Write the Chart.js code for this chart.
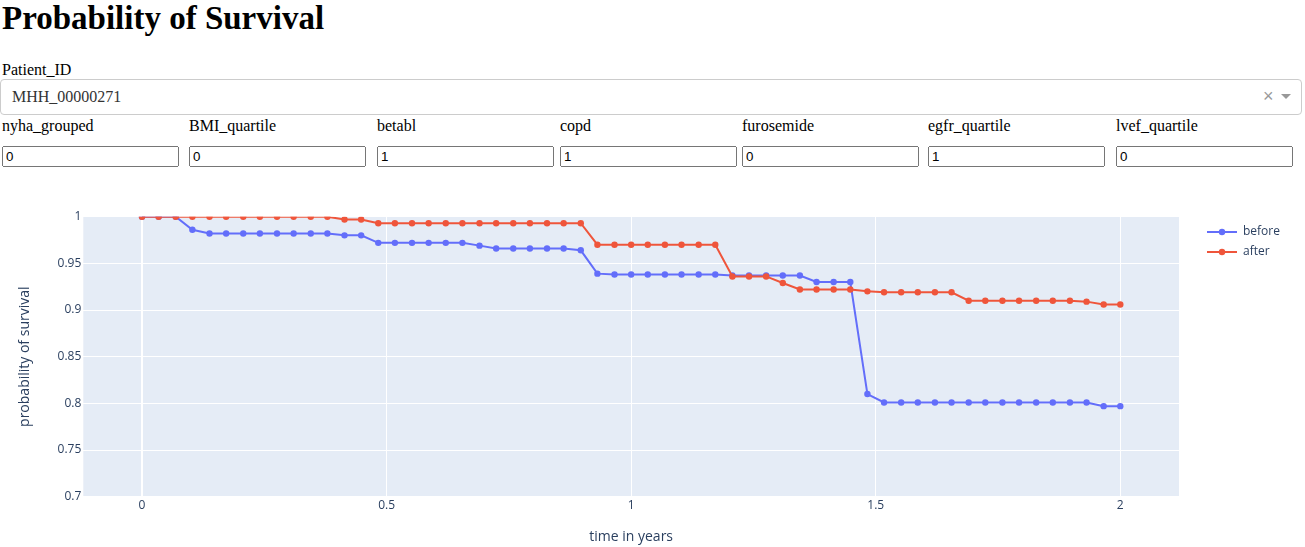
<!DOCTYPE html>
<html>
<head>
<meta charset="utf-8">
<title>Probability of Survival</title>
<script src="https://cdn.jsdelivr.net/npm/chart.js@4.4.1/dist/chart.umd.min.js"></script>
<style>
  html, body { margin: 0; padding: 0; background: #fff; }
  body {
    width: 1305px; height: 547px; position: relative; overflow: hidden;
    font-family: "Liberation Serif", "Times New Roman", serif; font-size: 16px; color: #000;
  }
  h1 { position: absolute; left: 2px; top: 0; margin: 0; font-size: 33px; line-height: 37px; font-weight: bold; }
  .lbl { position: absolute; line-height: 18px; white-space: nowrap; }
  .dd {
    position: absolute; left: 0; top: 79px; width: 1302px; height: 36px; box-sizing: border-box;
    border: 1px solid #ccc; border-radius: 4px; background: #fff;
  }
  .dd .val { position: absolute; left: 11px; top: 0; line-height: 34px; color: #333; }
  .dd .clr {
    position: absolute; left: 1262px; top: 0; line-height: 33px; color: #999;
    font-family: "Liberation Sans", Arial, sans-serif; font-size: 18px;
  }
  .dd .arr {
    position: absolute; left: 1280px; top: 14px; width: 0; height: 0;
    border-style: solid; border-width: 5px 5px 2.5px; border-color: #999 transparent transparent;
  }
  .fld { position: absolute; top: 117px; }
  .fld input {
    display: block; margin: 11px 0 0 0; width: 177px; box-sizing: border-box;
    font-family: "Liberation Sans", Arial, sans-serif; font-size: 13.333px;
  }
  #wrap { position: absolute; left: 0; top: 180px; width: 1305px; height: 367px; }
</style>
</head>
<body>
<h1>Probability of Survival</h1>
<div class="lbl" style="left:2px; top:61px;">Patient_ID</div>
<div class="dd">
  <span class="val">MHH_00000271</span>
  <span class="clr">×</span>
  <span class="arr"></span>
</div>
<div id="fields"></div>
<div id="wrap"><canvas id="survival-chart"></canvas></div>

<script>
// covariates shown above the chart
const fieldNames  = ['nyha_grouped', 'BMI_quartile', 'betabl', 'copd', 'furosemide', 'egfr_quartile', 'lvef_quartile'];
const fieldValues = ['0', '0', '1', '1', '0', '1', '0'];
const fieldLeft   = [2, 189, 377, 560, 742, 928, 1116];

// survival curve, sampled every ~1/29 year
const timeYears = [
  0, 0.034, 0.069, 0.103, 0.138, 0.172, 0.207, 0.241, 0.276, 0.31,
  0.345, 0.379, 0.414, 0.448, 0.483, 0.517, 0.552, 0.586, 0.621, 0.655,
  0.69, 0.724, 0.759, 0.793, 0.828, 0.862, 0.897, 0.931, 0.966, 1,
  1.034, 1.069, 1.103, 1.138, 1.172, 1.207, 1.241, 1.276, 1.31, 1.345,
  1.379, 1.414, 1.448, 1.483, 1.517, 1.552, 1.586, 1.621, 1.655, 1.69,
  1.724, 1.759, 1.793, 1.828, 1.862, 1.897, 1.931, 1.966, 2
];
const survivalBefore = [
  1, 1, 1, 0.986, 0.982, 0.982, 0.982, 0.982, 0.982, 0.982,
  0.982, 0.982, 0.980, 0.980, 0.972, 0.972, 0.972, 0.972, 0.972, 0.972,
  0.969, 0.966, 0.966, 0.966, 0.966, 0.966, 0.964, 0.939, 0.938, 0.938,
  0.938, 0.938, 0.938, 0.938, 0.938, 0.937, 0.937, 0.937, 0.937, 0.937,
  0.930, 0.930, 0.930, 0.810, 0.801, 0.801, 0.801, 0.801, 0.801, 0.801,
  0.801, 0.801, 0.801, 0.801, 0.801, 0.801, 0.801, 0.797, 0.797
];
const survivalAfter = [
  1, 1, 1, 1, 1, 1, 1, 1, 1, 1,
  1, 1, 0.997, 0.997, 0.993, 0.993, 0.993, 0.993, 0.993, 0.993,
  0.993, 0.993, 0.993, 0.993, 0.993, 0.993, 0.993, 0.970, 0.970, 0.970,
  0.970, 0.970, 0.970, 0.970, 0.970, 0.936, 0.936, 0.936, 0.929, 0.922,
  0.922, 0.922, 0.922, 0.920, 0.919, 0.919, 0.919, 0.919, 0.919, 0.910,
  0.910, 0.910, 0.910, 0.910, 0.910, 0.910, 0.909, 0.906, 0.906
];
const xTicks = [0, 0.5, 1, 1.5, 2];
const yTicks = [0.7, 0.75, 0.8, 0.85, 0.9, 0.95, 1];
const seriesNames  = ['before', 'after'];
const seriesColors = ['#636efa', '#ef553b'];

document.getElementById('fields').innerHTML = fieldNames.map((n, i) =>
  `<div class="fld" style="left:${fieldLeft[i]}px"><div style="line-height:18px">${n}</div>` +
  `<input type="text" value="${fieldValues[i]}"></div>`).join('');

const FONT = '"Open Sans", verdana, arial, sans-serif';
const INK = '#2a3f5f';

const plotBg = {
  id: 'plotBg',
  beforeDraw(chart) {
    const { ctx, chartArea: a } = chart;
    ctx.save();
    ctx.fillStyle = '#e5ecf6';
    ctx.fillRect(a.left, a.top, a.right - a.left, a.bottom - a.top);
    ctx.restore();
  },
};

// plotly-like legend: line with a dot in the middle
const sideLegend = {
  id: 'sideLegend',
  afterDraw(chart) {
    const { ctx, chartArea: a } = chart;
    ctx.save();
    ctx.font = '12px ' + FONT;
    ctx.textBaseline = 'middle';
    chart.data.datasets.forEach((ds, i) => {
      const y = a.top + 15.3 + i * 20;
      const x0 = a.right + 28;
      ctx.strokeStyle = ds.borderColor;
      ctx.lineWidth = 2;
      ctx.beginPath(); ctx.moveTo(x0, y); ctx.lineTo(x0 + 30, y); ctx.stroke();
      ctx.fillStyle = ds.borderColor;
      ctx.beginPath(); ctx.arc(x0 + 15, y, 3.2, 0, Math.PI * 2); ctx.fill();
      ctx.fillStyle = INK;
      ctx.fillText(ds.label, x0 + 36, y);
    });
    ctx.restore();
  },
};

const mkSeries = (i, vals, order) => ({
  label: seriesNames[i],
  data: timeYears.map((t, k) => ({ x: t, y: vals[k] })),
  borderColor: seriesColors[i],
  backgroundColor: seriesColors[i],
  borderWidth: 2,
  pointRadius: 3.2,
  pointBorderWidth: 0,
  pointHoverRadius: 3.2,
  tension: 0,
  clip: 0,
  order,
});

new Chart(document.getElementById('survival-chart'), {
  type: 'line',
  data: { datasets: [mkSeries(0, survivalBefore, 1), mkSeries(1, survivalAfter, 0)] },
  options: {
    responsive: true,
    maintainAspectRatio: false,
    animation: false,
    layout: { padding: { left: 0, top: 36.7, right: 126, bottom: 0 } },
    plugins: { legend: { display: false }, tooltip: { enabled: false } },
    scales: {
      x: {
        type: 'linear',
        min: -0.12, max: 2.12,
        afterBuildTicks: s => { s.ticks = xTicks.map(v => ({ value: v })); },
        afterFit: s => { s.height = 50.3; },
        grid: {
          color: '#fff',
          lineWidth: c => (c.tick && c.tick.value === 0 ? 2 : 1),
          drawTicks: false,
        },
        border: { display: false },
        ticks: { padding: 2, color: INK, font: { family: FONT, size: 12 }, callback: v => String(v) },
        title: { display: true, text: 'time in years', color: INK, font: { family: FONT, size: 14 }, padding: { top: 0, bottom: 1.9 } },
      },
      y: {
        min: 0.7, max: 1,
        afterBuildTicks: s => { s.ticks = yTicks.map(v => ({ value: v })); },
        afterFit: s => { s.width = 83.3; },
        grid: { color: '#fff', lineWidth: 1, drawTicks: false },
        border: { display: false },
        ticks: { padding: 2, color: INK, font: { family: FONT, size: 12 }, callback: v => String(v) },
        title: { display: true, text: 'probability of survival', color: INK, font: { family: FONT, size: 14 }, padding: { top: 16.6, bottom: 0 } },
      },
    },
  },
  plugins: [plotBg, sideLegend],
});
</script>
</body>
</html>
